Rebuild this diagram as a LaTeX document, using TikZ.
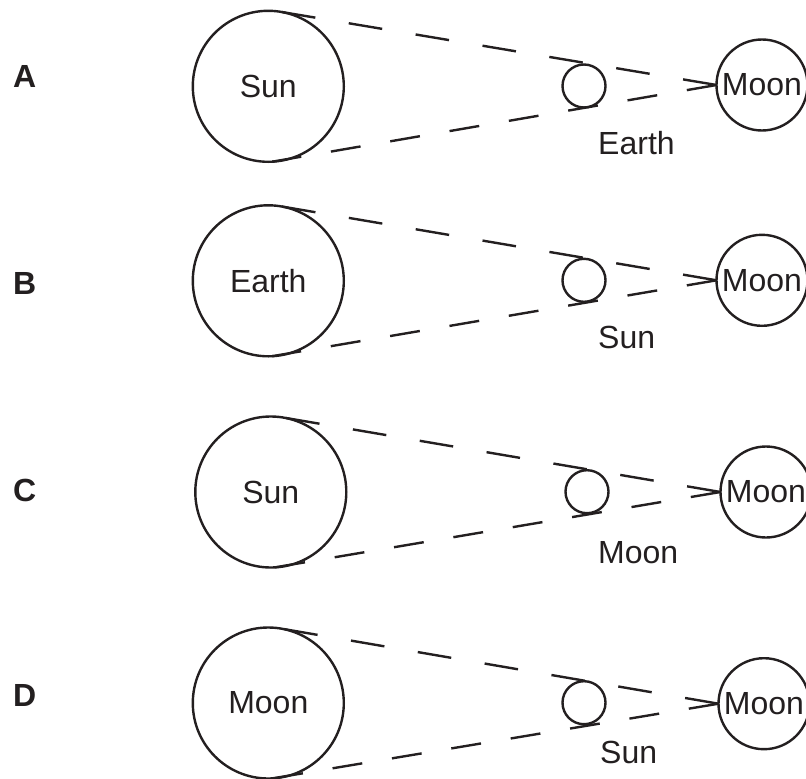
\documentclass[tikz,border=0pt]{standalone}
\usepackage{fontspec}
\setmainfont{Liberation Sans}
\usepackage{tikz}
\definecolor{ink}{HTML}{231F20}
\newcommand{\diagfont}{\fontsize{32bp}{37bp}\selectfont}

\begin{document}
\begin{tikzpicture}[x=1bp, y=-1bp, line width=2.4bp, color=ink, font=\diagfont,
    big/.style = {draw, circle, minimum size=151bp, inner sep=0, outer sep=0},
    small/.style = {draw, circle, minimum size=43bp, inner sep=0, outer sep=0},
    moon/.style = {draw, circle, minimum size=91bp, inner sep=0, outer sep=0},
    letter/.style = {anchor=west, inner sep=0, font=\diagfont\bfseries},
    lbl/.style = {anchor=west, inner sep=0},
    rayup/.style = {dash pattern=on 33.9bp off 33.9bp},
    raydown/.style = {dash pattern=on 30.1bp off 30.1bp}]
    \useasboundingbox (0,0) rectangle (806,779);

    % A
    \node[letter] (A) at (12,76) {A};
    \node[big] (bigA) at (268.3,86.3) {Sun};
    \node[small] (midA) at (584,86) {};
    \node[moon] (moonA) at (762,85) {Moon};
    \node[lbl] (subA) at (597,143) {Earth};
    \draw[rayup] (moonA.west) -- (bigA.81);
    \draw[raydown] (moonA.west) -- (bigA.273);

    % B
    \node[letter] (B) at (12,283.5) {B};
    \node[big] (bigB) at (268.3,280.8) {Earth};
    \node[small] (midB) at (584,280.3) {};
    \node[moon] (moonB) at (762,280.3) {Moon};
    \node[lbl] (subB) at (597,337.5) {Sun};
    \draw[rayup] (moonB.west) -- (bigB.81);
    \draw[raydown] (moonB.west) -- (bigB.273);

    % C
    \node[letter] (C) at (12,490) {C};
    \node[big] (bigC) at (270.8,492) {Sun};
    \node[small] (midC) at (587,491.7) {};
    \node[moon] (moonC) at (766,492) {Moon};
    \node[lbl] (subC) at (597,553) {Moon};
    \draw[rayup] (moonC.west) -- (bigC.81);
    \draw[raydown] (moonC.west) -- (bigC.273);

    % D
    \node[letter] (D) at (12,695) {D};
    \node[big] (bigD) at (268.3,703) {Moon};
    \node[small] (midD) at (584,702.7) {};
    \node[moon] (moonD) at (764,703.7) {Moon};
    \node[lbl] (subD) at (599,752.5) {Sun};
    \draw[rayup] (moonD.west) -- (bigD.81);
    \draw[raydown] (moonD.west) -- (bigD.273);
\end{tikzpicture}
\end{document}
